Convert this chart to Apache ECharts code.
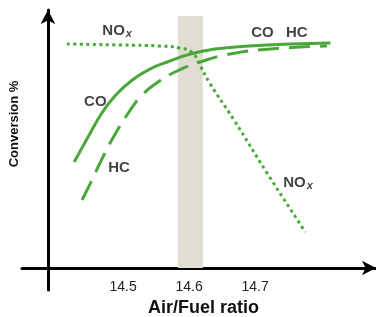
<!DOCTYPE html>
<html>
<head>
<meta charset="utf-8">
<script src="https://cdn.jsdelivr.net/npm/echarts@6/dist/echarts.min.js"></script>
<style>
  html, body { margin: 0; padding: 0; background: #fff; }
  #chart { width: 376px; height: 317px; }
</style>
</head>
<body>
<div id="chart"></div>
<script>
  // air/fuel ratio ticks
  var tickValues = [14.5, 14.6, 14.7]

  // CO conversion (solid)
  var coAfr = [14.426, 14.447, 14.468, 14.489, 14.514, 14.541, 14.571, 14.602, 14.639, 14.692, 14.753, 14.814]
  var coConv = [42.4, 52.4, 62.0, 69.2, 75.2, 79.6, 82.8, 85.6, 87.6, 88.8, 89.6, 90.0]

  // HC conversion (dashed)
  var hcAfr = [14.438, 14.453, 14.471, 14.489, 14.508, 14.529, 14.553, 14.582, 14.617, 14.662, 14.723, 14.809]
  var hcConv = [27.2, 35.2, 45.2, 54.0, 62.0, 69.2, 74.4, 78.8, 82.4, 85.6, 87.6, 88.8]

  // NOx conversion (dotted)
  var noxAfr = [14.415, 14.495, 14.556, 14.586, 14.605, 14.617, 14.632, 14.667, 14.718, 14.776]
  var noxConv = [89.6, 89.2, 88.8, 88.0, 86.0, 80.8, 73.6, 59.6, 38.0, 14.4]

  // stoichiometric window
  var windowAfr = [14.583, 14.621]
  var windowTop = 100.8

  // curve labels
  var labelNames = ['NOx', 'CO', 'HC', 'CO', 'HC', 'NOx']
  var labelAfr = [14.491, 14.458, 14.494, 14.711, 14.763, 14.765]
  var labelConv = [94.8, 66.4, 40.0, 94.0, 94.0, 34.0]

  var green = '#4aa83a'

  function zip(xs, ys) {
    return xs.map(function (x, i) { return [x, ys[i]] })
  }

  var chart = echarts.init(document.getElementById('chart'))
  chart.setOption({
    animation: false,
    backgroundColor: '#fff',
    grid: {
      left: 22,
      right: 0,
      top: 10,
      bottom: 27,
      containLabel: false,
      outerBoundsMode: 'none'
    },
    xAxis: {
      type: 'value',
      min: 14.347,
      max: 14.883,
      offset: -22,
      name: 'Air/Fuel ratio',
      nameLocation: 'middle',
      nameGap: 31,
      nameMoveOverlap: false,
      nameTextStyle: {
        fontFamily: 'Liberation Sans',
        fontWeight: 'bold',
        fontSize: 18,
        color: '#111',
        padding: [0, 0, 0, 9]
      },
      axisLine: {
        onZero: false,
        symbol: ['none', 'arrow'],
        symbolSize: [11, 14],
        lineStyle: { color: '#000', width: 3 }
      },
      axisTick: { show: false },
      splitLine: { show: false },
      axisLabel: {
        customValues: tickValues,
        margin: 12,
        fontFamily: 'Liberation Sans',
        fontSize: 14,
        color: '#222',
        formatter: function (v) { return v.toFixed(1) }
      }
    },
    yAxis: {
      type: 'value',
      min: -8.8,
      max: 103.2,
      offset: -26,
      name: 'Conversion %',
      nameLocation: 'middle',
      nameGap: 27,
      nameTextStyle: {
        fontFamily: 'Liberation Sans',
        fontWeight: 'bold',
        fontSize: 13,
        color: '#111',
        padding: [0, 0, 0, 52]
      },
      axisLine: {
        show: true,
        onZero: false,
        symbol: ['none', 'arrow'],
        symbolSize: [11, 14],
        lineStyle: { color: '#000', width: 3 }
      },
      axisTick: { show: false },
      axisLabel: { show: false },
      splitLine: { show: false }
    },
    series: [
      {
        name: 'CO',
        type: 'line',
        smooth: 0.5,
        symbol: 'none',
        lineStyle: { color: green, width: 3 },
        data: zip(coAfr, coConv),
        markArea: {
          silent: true,
          itemStyle: { color: '#e2ddd2' },
          data: [[
            { xAxis: windowAfr[0], yAxis: 0 },
            { xAxis: windowAfr[1], yAxis: windowTop }
          ]]
        },
        z: 3
      },
      {
        name: 'HC',
        type: 'line',
        smooth: 0.5,
        symbol: 'none',
        lineStyle: { color: green, width: 3, type: [21, 10] },
        data: zip(hcAfr, hcConv),
        z: 3
      },
      {
        name: 'NOx',
        type: 'line',
        smooth: 0.5,
        symbol: 'none',
        lineStyle: { color: green, width: 3, type: [3, 3.5] },
        data: zip(noxAfr, noxConv),
        z: 3
      },
      {
        type: 'scatter',
        symbolSize: 0,
        silent: true,
        data: labelNames.map(function (n, i) {
          return { name: n, value: [labelAfr[i], labelConv[i]] }
        }),
        label: {
          show: true,
          position: 'inside',
          fontFamily: 'Liberation Sans',
          fontWeight: 'bold',
          fontSize: 15,
          color: '#111',
          formatter: function (p) {
            if (p.name === 'NOx') return '{b|NO}{s|x}'
            return p.name
          },
          rich: {
            b: {
              fontFamily: 'Liberation Sans',
              fontWeight: 'bold',
              fontSize: 15,
              color: '#111'
            },
            s: {
              fontFamily: 'Liberation Sans',
              fontWeight: 'bold',
              fontStyle: 'italic',
              fontSize: 11,
              color: '#111',
              padding: [6, 0, 0, 1]
            }
          }
        }
      }
    ]
  })
</script>
</body>
</html>
